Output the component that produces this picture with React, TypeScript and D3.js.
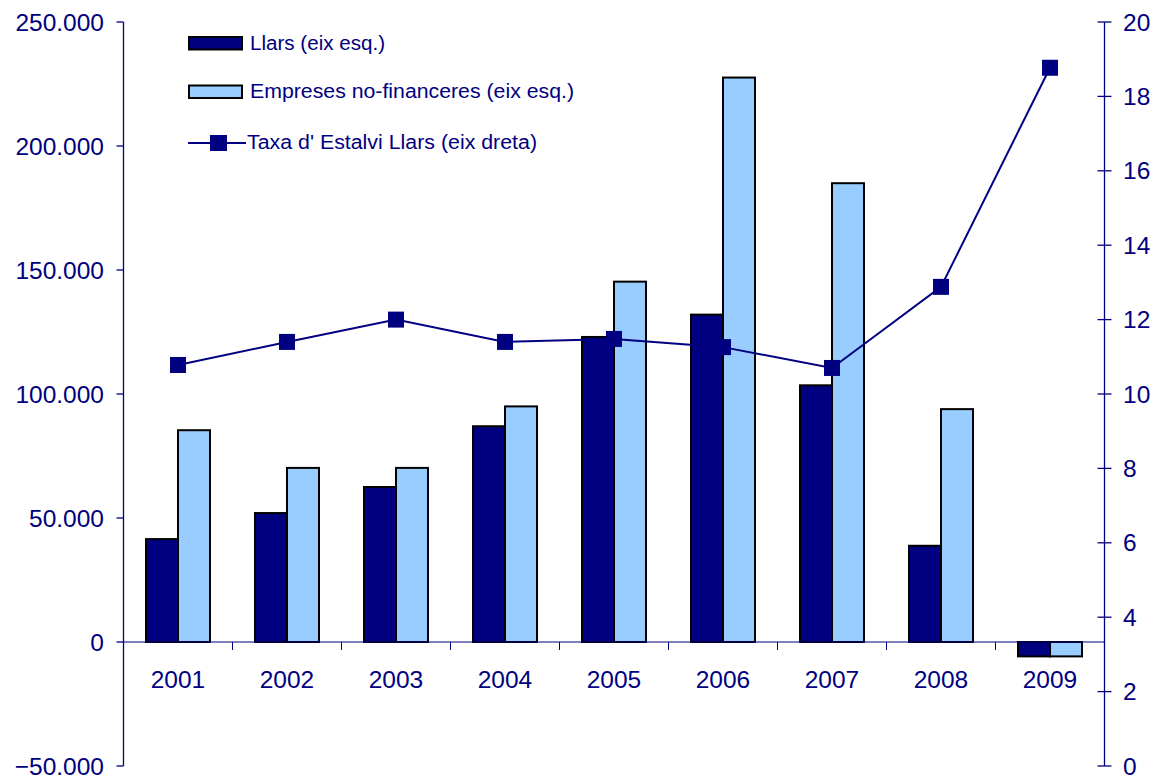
import React from "react";
import * as d3 from "d3";

const years = ["2001", "2002", "2003", "2004", "2005", "2006", "2007", "2008", "2009"];
const llars = [41500, 52000, 62500, 87000, 123000, 132000, 103500, 38800, -5800];
const empreses = [85400, 70200, 70200, 95000, 145300, 227600, 185000, 93900, -5800];
const taxa = [10.78, 11.4, 12.0, 11.4, 11.48, 11.26, 10.7, 12.88, 18.77];
const leftTicks = [-50000, 0, 50000, 100000, 150000, 200000, 250000];
const rightTicks = [0, 2, 4, 6, 8, 10, 12, 14, 16, 18, 20];
const legendLabels = ["Llars (eix esq.)", "Empreses no-financeres (eix esq.)", "Taxa d' Estalvi Llars (eix dreta)"];

const NAVY = "#000080";
const LIGHT = "#99CCFF";
const FONT = "'Liberation Sans', Arial, sans-serif";

export default function App() {
  const W = 1153, H = 777;
  const x0 = 123.5, x1 = 1104.5, yTop = 22, yBot = 766;
  const x = d3.scaleBand<string>().domain(years).range([x0, x1]).padding(0);
  const yL = d3.scaleLinear().domain([-50000, 250000]).range([yBot, yTop]);
  const yR = d3.scaleLinear().domain([0, 20]).range([yBot, yTop]);
  const bw = x.bandwidth();
  const barW = 32;
  const fmt = (v: number) => (v === 0 ? "0" : d3.format(",")(v).replace(/,/g, "."));
  const line = d3
    .line<number>()
    .x((_, i) => (x(years[i]) as number) + bw / 2)
    .y((d) => yR(d));
  const y0 = yL(0);

  return (
    <svg width={W} height={H} style={{ position: "absolute", left: 0, top: 0, background: "#fff" }} fontFamily={FONT}>
      {/* bars */}
      {years.map((yr, i) => {
        const cx = (x(yr) as number) + bw / 2;
        const a = llars[i], b = empreses[i];
        return (
          <g key={yr}>
            <rect x={cx - barW} y={Math.min(yL(a), y0)} width={barW} height={Math.abs(yL(a) - y0)} fill={NAVY} stroke="#000" strokeWidth={2} />
            <rect x={cx} y={Math.min(yL(b), y0)} width={barW} height={Math.abs(yL(b) - y0)} fill={LIGHT} stroke="#000" strokeWidth={2} />
          </g>
        );
      })}
      {/* zero axis line */}
      <line x1={x0} x2={x1} y1={y0} y2={y0} stroke={NAVY} strokeWidth={1} />
      {years.slice(1).map((yr) => (
        <line key={yr} x1={x(yr) as number} x2={x(yr) as number} y1={y0} y2={y0 + 8} stroke={NAVY} strokeWidth={1} />
      ))}
      {years.map((yr) => (
        <text key={yr} x={(x(yr) as number) + bw / 2} y={688} textAnchor="middle" fontSize={24.5} fill={NAVY}>
          {yr}
        </text>
      ))}
      {/* left axis */}
      <line x1={x0} x2={x0} y1={yTop} y2={yBot} stroke={NAVY} strokeWidth={1.3} />
      {leftTicks.map((t) => (
        <g key={t}>
          <line x1={x0 - 7} x2={x0} y1={yL(t)} y2={yL(t)} stroke={NAVY} strokeWidth={1.3} />
          <text x={104} y={yL(t) + 8.5} textAnchor="end" fontSize={24.5} fill={NAVY}>
            {fmt(t)}
          </text>
        </g>
      ))}
      {/* right axis */}
      <line x1={x1} x2={x1} y1={yTop} y2={yBot} stroke={NAVY} strokeWidth={1.3} />
      {rightTicks.map((t) => (
        <g key={t}>
          <line x1={x1 - 7} x2={x1 + 7} y1={yR(t)} y2={yR(t)} stroke={NAVY} strokeWidth={1.3} />
          <text x={1123} y={yR(t) + 8.5} textAnchor="start" fontSize={24.5} fill={NAVY}>
            {t}
          </text>
        </g>
      ))}
      {/* line */}
      <path d={line(taxa) || ""} fill="none" stroke={NAVY} strokeWidth={2} />
      {taxa.map((v, i) => (
        <rect key={i} x={(x(years[i]) as number) + bw / 2 - 8} y={yR(v) - 8} width={16} height={16} fill={NAVY} />
      ))}
      {/* legend */}
      <rect x={189} y={37} width={53} height={12.5} fill={NAVY} stroke="#000" strokeWidth={2} />
      <text x={250} y={49.5} fontSize={20} fill={NAVY} textLength={135} lengthAdjust="spacingAndGlyphs">{legendLabels[0]}</text>
      <rect x={189} y={85.5} width={53} height={12.5} fill={LIGHT} stroke="#000" strokeWidth={2} />
      <text x={250} y={98} fontSize={20} fill={NAVY} textLength={324} lengthAdjust="spacingAndGlyphs">{legendLabels[1]}</text>
      <line x1={188} x2={246} y1={143} y2={143} stroke={NAVY} strokeWidth={2} />
      <rect x={210} y={135} width={17} height={16} fill={NAVY} />
      <text x={247} y={148.5} fontSize={20} fill={NAVY} textLength={290} lengthAdjust="spacingAndGlyphs">{legendLabels[2]}</text>
    </svg>
  );
}
